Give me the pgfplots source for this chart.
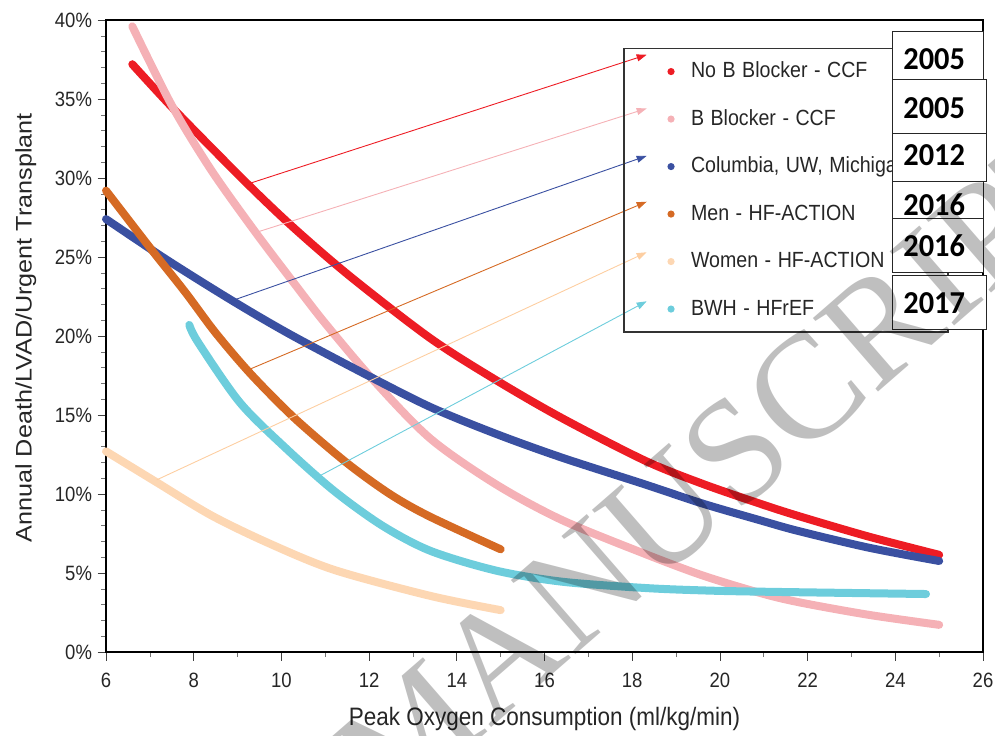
\documentclass[border=0pt]{standalone}
\usepackage{graphicx}
\usepackage{fontspec}
\setmainfont{Liberation Sans}
\newfontfamily\yearfont{Carlito}
\newfontfamily\wmfont{Liberation Serif}
\usepackage{pgfplots}
\pgfplotsset{compat=1.18}
\usetikzlibrary{arrows.meta}

\definecolor{cRed}{HTML}{ED1C24}
\definecolor{cPink}{HTML}{F5B1B6}
\definecolor{cBlue}{HTML}{3A50A1}
\definecolor{cOrange}{HTML}{D56A24}
\definecolor{cPeach}{HTML}{FDD7B3}
\definecolor{cCyan}{HTML}{6DCDDC}

% the source picture is stretched vertically a little
\newcommand{\vs}[1]{\scalebox{1}[1.12]{#1}}
\newcommand{\tickfont}{\fontsize{18.5bp}{22bp}\selectfont}
\newcommand{\labfont}{\fontsize{22.5bp}{26bp}\selectfont}
\newcommand{\legfont}{\fontsize{19.6bp}{23bp}\selectfont}

\begin{document}
\begin{tikzpicture}

\begin{axis}[
    at={(106bp,-652bp)}, anchor=south west,
    width=877bp, height=632bp, scale only axis,
    xmin=6, xmax=26, ymin=0, ymax=40,
    xtick={6,8,...,26}, ytick={0,5,...,40},
    minor x tick num=1, minor y tick num=4,
    tick align=outside, tick pos=left,
    major tick length=8.5bp, minor tick length=5bp,
    tick style={black!75, line width=0.8bp},
    minor tick style={black!55, line width=0.6bp},
    axis line style={line width=1.6bp, black},
    /pgf/number format/assume math mode=true,
    xticklabel={\vs{\pgfmathprintnumber{\tick}}},
    yticklabel={\vs{\pgfmathprintnumber{\tick}\%}},
    tick label style={font=\tickfont, text=black!85},
    xticklabel style={yshift=-9bp},
    yticklabel style={xshift=-2bp},
    xlabel={\vs{Peak Oxygen Consumption (ml/kg/min)}},
    xlabel style={at={(axis description cs:0.5,0)}, anchor=base, yshift=-73bp, font=\labfont, text=black!85},
    ylabel={\scalebox{1.12}[1]{Annual Death/LVAD/Urgent Transplant}},
    ylabel style={at={(axis description cs:-0.0847,0.513)}, anchor=base, font=\labfont, text=black!85},
    clip=false,
    legend cell align=left,
    legend image code/.code={\path[draw=none, fill=none] (0bp,0bp) -- (67bp,0bp);
        \fill[#1, draw=none] (47bp,0bp) circle (3.6bp);},
    legend style={at={(axis cs:17.80,38.23)}, anchor=north west, draw=black!80, line width=1.2bp,
        fill=none, inner xsep=0pt, inner ysep=13bp, row sep=27.5bp, font=\legfont,
        nodes={inner sep=0pt, text height=16bp, text depth=4bp, text width=257bp, text=black!85}},
    every axis plot/.append style={smooth, line width=8bp, line cap=round},
]

\addplot[cRed] coordinates {(6.6,37.2) (7.6,34.2) (9.2,29.7) (10.3,26.8) (11.6,23.7) (13.4,19.85)
    (14.9,17.2) (16.4,14.8) (18.3,12.1) (19.6,10.65) (20.9,9.4) (21.8,8.6) (23.4,7.3) (25.0,6.15)};
\addlegendentry{\vs{No B Blocker - CCF}}

\addplot[cPink] coordinates {(6.6,39.6) (7.5,34.6) (8.4,30.5) (9.4,26.6) (10.3,23.3) (11.0,20.8)
    (12.1,17.2) (13.4,13.5) (14.9,10.6) (16.4,8.35) (18.3,6.2) (19.6,4.85) (20.9,3.75)
    (21.8,3.15) (23.4,2.35) (25.0,1.72)};
\addlegendentry{\vs{B Blocker - CCF}}

\addplot[cBlue] coordinates {(6.0,27.4) (7.4,24.8) (8.9,22.2) (10.2,20.1) (11.9,17.6) (13.4,15.5)
    (14.9,13.8) (16.4,12.3) (18.3,10.6) (19.6,9.4) (20.9,8.35) (21.8,7.65) (23.4,6.6) (25.0,5.76)};
\addlegendentry{\vs{Columbia, UW, Michigan}}

\addplot[cOrange] coordinates {(6.0,29.2) (7.0,25.6) (7.8,22.8) (8.5,20.2) (9.3,17.6) (10.3,14.8)
    (11.5,11.95) (12.5,9.95) (13.4,8.55) (15.0,6.5)};
\addlegendentry{\vs{Men - HF-ACTION}}

\addplot[cPeach] coordinates {(6.0,12.7) (7.15,10.75) (8.4,8.65) (9.7,6.9) (11.2,5.2) (13.4,3.55)
    (15.0,2.65)};
\addlegendentry{\vs{Women - HF-ACTION}}

\addplot[cCyan] coordinates {(7.9,20.7) (8.1,19.6) (9.05,15.8) (10.1,12.9) (11.2,10.2) (12.3,8.0)
    (13.4,6.4) (14.9,5.15) (16.4,4.45) (18.3,4.05) (19.6,3.9) (20.9,3.82) (24.7,3.67)};
\addlegendentry{\vs{BWH - HFrEF}}

% pointers from the curves to the legend
\begin{scope}[line width=0.9bp, -{Triangle[length=10bp,width=7bp]}]
\draw[cRed]    (axis cs:9.21,29.6) -- (axis cs:18.33,37.8);
\draw[cPink]   (axis cs:9.36,26.5) -- (axis cs:18.33,34.4);
\draw[cBlue]   (axis cs:8.94,22.3) -- (axis cs:18.33,31.4);
\draw[cOrange] (axis cs:9.28,17.9) -- (axis cs:18.33,28.5);
\draw[cPeach!90!orange] (axis cs:7.16,10.9) -- (axis cs:18.33,25.3);
\draw[cCyan]   (axis cs:10.84,11.1) -- (axis cs:18.33,22.2);
\end{scope}
\end{axis}

\begin{scope}[x=1bp, y=1bp]
\pgfresetboundingbox
\useasboundingbox (0,0) rectangle (995,-736);

% year boxes
\begin{scope}[draw=black!85, line width=1bp, fill=white]
\filldraw (892.7,-31.7) rectangle (983.3,-82);
\filldraw (892.7,-80) rectangle (986.7,-133.3);
\filldraw (892.7,-133.3) rectangle (986.7,-181.7);
\filldraw (892.7,-181.7) rectangle (983.3,-232);
\filldraw (892.7,-218.3) rectangle (983.3,-272.7);
\filldraw (892.7,-275) rectangle (986.7,-329);
\end{scope}
\begin{scope}[every node/.style={anchor=base, inner sep=0pt, font=\yearfont\bfseries\fontsize{30.4bp}{32bp}\selectfont}]
\node at (934.2,-70)    {\scalebox{1}[1.05]{2005}};
\node at (934.2,-118.3) {\scalebox{1}[1.05]{2005}};
\node at (934.2,-165)   {\scalebox{1}[1.05]{2012}};
\node at (934.2,-215)   {\scalebox{1}[1.05]{2016}};
\node at (934.2,-256.7) {\scalebox{1}[1.05]{2016}};
\node at (934.2,-313.3) {\scalebox{1}[1.05]{2017}};
\end{scope}

% watermark
\begin{scope}
\clip (0,0) rectangle (995,-736);
\node[rotate=41, inner sep=0pt, text=black, text opacity=0.25,
      font=\wmfont\fontsize{150bp}{150bp}\selectfont] at (723,-462) {MANUSCRIPT};
\end{scope}
\end{scope}
\end{tikzpicture}
\end{document}
